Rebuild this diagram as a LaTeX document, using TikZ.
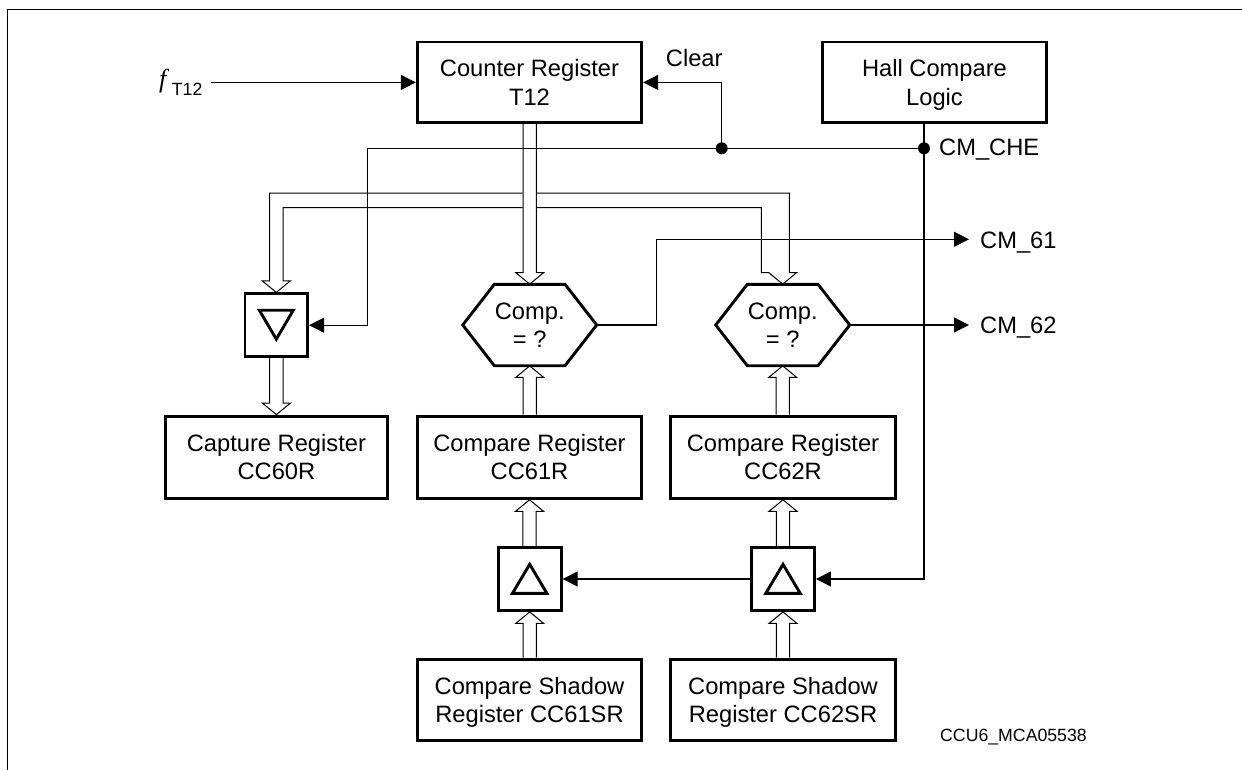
\documentclass[tikz,border=0pt]{standalone}
\usepackage{fontspec}
\setmainfont{Liberation Sans}
\newfontfamily\serifit{Liberation Serif}
\usetikzlibrary{arrows.meta,calc}
\newcommand\nd[1]{\raisebox{0pt}[\height][0pt]{#1}}
\newcommand\busv[2]{%
  \draw[bus] let \p1=(#1), \p2=(#2), \n2={sign(\y1-\y2)*11.5} in
   ({\x2-6.7pt},{\y1}) -- ({\x2-6.7pt},{\y2+\n2*1pt}) -- ({\x2-14pt},{\y2+\n2*1pt}) -- (\p2)
   -- ({\x2+14pt},{\y2+\n2*1pt}) -- ({\x2+6.7pt},{\y2+\n2*1pt}) -- ({\x2+6.7pt},{\y1});}
\begin{document}
\begin{tikzpicture}[x=1pt,y=-1pt,
  font=\fontsize{23.7}{28.3}\selectfont,
  box/.style={draw, line width=2.9pt, inner sep=0pt, align=center},
  thickline/.style={line width=2.9pt, line join=miter},
  sig/.style={line width=1.1pt, -{Triangle[length=15pt,width=15pt]}},
  bus/.style={line width=1pt},
  lbl/.style={anchor=base west, inner sep=0pt}]
\useasboundingbox (0,0) rectangle (1242,770);
% frame
\draw[line width=1.5pt] (7.3,770) -- (7.3,9.3) -- (1242,9.3);
% boxes
\node[box, minimum width=224.4pt, minimum height=80.8pt] (ctr) at (529.5,82.4) {Counter Register\\T12};
\node[box, minimum width=224.8pt, minimum height=80.8pt] (hall) at (934.5,82.4) {Hall Compare\\\nd{Logic}};
\node[box, minimum size=62.7pt] (cap) at (276.3,325.2) {};
\node[inner sep=0pt, minimum width=134pt, minimum height=81.4pt, align=center] (h1) at (529.7,325) {Comp.\\= ?};
\node[inner sep=0pt, minimum width=134pt, minimum height=81.4pt, align=center] (h2) at (782.7,325) {Comp.\\= ?};
\node[box, minimum width=222.7pt, minimum height=82.3pt] (cc60) at (276.4,457.2) {Capture Register\\CC60R};
\node[box, minimum width=224.4pt, minimum height=82.3pt] (cc61) at (529.5,457.2) {Compare Register\\CC61R};
\node[box, minimum width=224.4pt, minimum height=82.3pt] (cc62) at (783,457.2) {Compare Register\\CC62R};
\node[box, minimum size=63pt] (l1) at (529.7,579) {};
\node[box, minimum size=63pt] (l2) at (783,579) {};
\node[box, minimum width=224.4pt, minimum height=81.5pt] (sh1) at (529.5,699.8) {Compare Shadow\\\nd{Register CC61SR}};
\node[box, minimum width=224.4pt, minimum height=81.5pt] (sh2) at (783,699.8) {Compare Shadow\\\nd{Register CC62SR}};
% hexagons
\foreach \h in {h1,h2}{
  \draw[thickline] ($(\h)+(-67,0)$) -- ($(\h)+(-35.4,-40.7)$) -- ($(\h)+(35.3,-40.7)$) -- ($(\h)+(67,0)$)
    -- ($(\h)+(35.3,40.7)$) -- ($(\h)+(-35.4,40.7)$) -- cycle;}
% triangles
\draw[thickline] ($(cap)+(-17,-15)$) -- ($(cap)+(17,-15)$) -- ($(cap)+(0,14)$) -- cycle;
\foreach \l in {l1,l2}{
  \draw[thickline] ($(\l)+(0,-14.7)$) -- ($(\l)+(17.2,14.3)$) -- ($(\l)+(-17.2,14.3)$) -- cycle;}
% coordinates
\coordinate (fin) at (210.7,82.4);
\coordinate (j1) at (721.7,148.3);
\coordinate (j2) at (924,148.3);
\coordinate (c1) at (367.3,148.3);
\coordinate (k61) at (656.7,239.3);
\coordinate (o61) at (969,239.3);
\coordinate (o62) at (969,325);
% buses
\busv{ctr.south}{h1.north}
\draw[bus] ($(ctr.south)+(-7,69)$) -| ($(cap.north)+(-6.7,-11.5)$) -- ++(-7.3,0) -- (cap.north)
   -- ++(14,-11.5) -- ++(-7.3,0) |- ($(ctr.south)+(-7,83.3)$);
\draw[bus] ($(ctr.south)+(7,69)$) -| ($(h2.north)+(6.7,-11.5)$) -- ++(7.3,0) -- (h2.north)
   -- ++(-14,-11.5) -- ++(-7.3,0) |- ($(ctr.south)+(7,83.3)$);
\busv{cc61.north}{h1.south}
\busv{cc62.north}{h2.south}
\busv{cap.south}{cc60.north}
\busv{l1.north}{cc61.south}
\busv{l2.north}{cc62.south}
\busv{sh1.north}{l1.south}
\busv{sh2.north}{l2.south}
% signals
\draw[sig] (fin) -- (ctr.west);
\draw[sig] (j1) |- (ctr.east);
\draw[sig] (j2) -- (c1) |- (cap.east);
\draw[sig] (j2 |- hall.south) |- (l2.east);
\draw[sig] (l2.west) -- (l1.east);
\draw[sig] (h1.east) -| (k61) -- (o61);
\draw[sig] (h2.east) -- (o62);
\fill (j1) circle (6pt);
\fill (j2) circle (6pt);
% labels
\node[lbl] (clr) at (665.7,66.7) {Clear};
\node[lbl] (tche) at (939,155.3) {CM\_CHE};
\node[lbl] (t61) at (980,248) {CM\_61};
\node[lbl] (t62) at (980,333.8) {CM\_62};
\node[lbl, font=\fontsize{17.7}{20}\selectfont] (id) at (940,741) {CCU6\_MCA05538};
\node[lbl, font=\fontsize{26}{26}\selectfont\serifit\itshape] (f) at (159,87.7) {f};
\node[lbl, font=\fontsize{17.7}{20}\selectfont] (fsub) at (171.7,96) {T12};
\end{tikzpicture}
\end{document}
